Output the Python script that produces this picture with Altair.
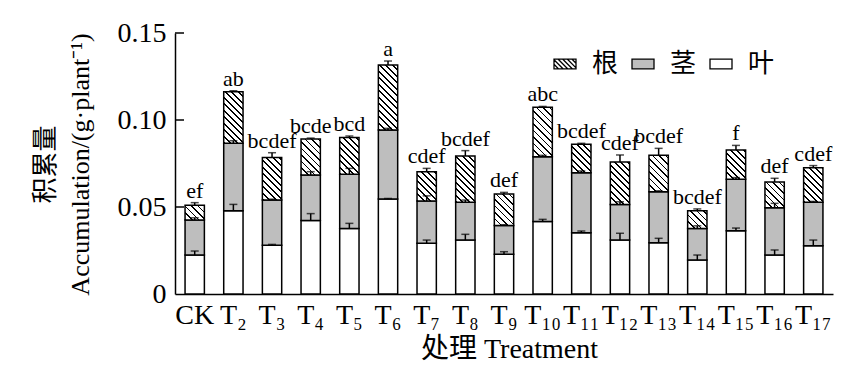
import altair as alt
import pandas as pd

# ---------------- data ----------------
treatments = ["CK", "T₂", "T₃", "T₄", "T₅", "T₆", "T₇", "T₈", "T₉",
              "T₁₀", "T₁₁", "T₁₂", "T₁₃", "T₁₄", "T₁₅", "T₁₆", "T₁₇"]
leaf = [0.0224, 0.0479, 0.0280, 0.0423, 0.0377, 0.0546, 0.0291, 0.0310, 0.0228,
        0.0416, 0.0352, 0.0310, 0.0295, 0.0195, 0.0364, 0.0224, 0.0278]
stem = [0.0201, 0.0387, 0.0260, 0.0261, 0.0311, 0.0397, 0.0243, 0.0217, 0.0165,
        0.0373, 0.0345, 0.0205, 0.0293, 0.0182, 0.0295, 0.0272, 0.0249]
root = [0.0085, 0.0297, 0.0245, 0.0207, 0.0212, 0.0373, 0.0169, 0.0266, 0.0182,
        0.0284, 0.0163, 0.0244, 0.0209, 0.0102, 0.0169, 0.0148, 0.0199]
leaf_err = [0.0023, 0.0036, 0.0005, 0.0039, 0.0029, 0.0003, 0.0019, 0.0033, 0.0015,
            0.0013, 0.0010, 0.0039, 0.0025, 0.0029, 0.0015, 0.0029, 0.0032]
stem_err = [0.0013, 0.0015, 0.0005, 0.0019, 0.0034, 0.0009, 0.0030, 0.0013, 0.0005,
            0.0008, 0.0010, 0.0015, 0.0005, 0.0015, 0.0010, 0.0025, 0.0005]
root_err = [0.0015, 0.0005, 0.0027, 0.0005, 0.0008, 0.0023, 0.0019, 0.0031, 0.0009,
            0.0005, 0.0006, 0.0040, 0.0040, 0.0010, 0.0026, 0.0021, 0.0012]
letters = ["ef", "ab", "bcdef", "bcde", "bcd", "a", "cdef", "bcdef", "def",
           "abc", "bcdef", "cdef", "bcdef", "bcdef", "f", "def", "cdef"]
parts = ["根", "茎", "叶"]
y_ticks = [0.05, 0.10, 0.15]

# ---------------- tables ----------------
df = pd.DataFrame({"trt": treatments, "leaf": leaf, "stem": stem, "root": root,
                   "e1": leaf_err, "e2": stem_err, "e3": root_err, "letter": letters})
df["s0"] = 0.0
df["s1"] = df["leaf"]
df["s2"] = df["leaf"] + df["stem"]
df["s3"] = df["s2"] + df["root"]
df["lab"] = df["s3"] + df["e3"]

err_rows = []
for _, r in df.iterrows():
    for s, e in (("s1", "e1"), ("s2", "e2"), ("s3", "e3")):
        err_rows.append({"trt": r["trt"], "base": r[s], "hi": r[s] + r[e]})
df_err = pd.DataFrame(err_rows)

leg_rows = []
for _, r in df.iterrows():
    for p, s in zip(parts, ["s3", "s2", "s1"]):
        leg_rows.append({"trt": r["trt"], "part": p, "top": r[s]})
df_leg = pd.DataFrame(leg_rows)
df_ticks = pd.DataFrame({"v": y_ticks})

# ---------------- styles ----------------
SERIF = "Liberation Serif"
MIXED = "Liberation Serif, Noto Sans CJK SC"
GRAY = "#bebebe"

xaxis = alt.Axis(title="处理 Treatment", titleFont=MIXED, titleFontSize=28,
                 titleFontWeight="normal", titleColor="black",
                 titleBaseline="alphabetic", titleY=63, titleX=334,
                 labelFont=SERIF, labelFontSize=28, labelColor="black",
                 labelAngle=0, labelPadding=7, ticks=False,
                 domainColor="black", domainWidth=1.5)
yaxis = alt.Axis(title=["积累量", "Accumulation/(g·plant⁻¹)"], titleFont=MIXED,
                 titleFontSize=26, titleFontWeight="normal", titleColor="black",
                 titleAngle=-90, titleBaseline="top", titleAlign="center",
                 titleX=-143, titleY=131, titleLineHeight=35,
                 labelFont=SERIF, labelFontSize=28, labelColor="black",
                 labelPadding=9, ticks=False, grid=False,
                 values=[0, 0.05, 0.10, 0.15],
                 labelExpr="datum.value == 0 ? '0' : format(datum.value, '.2f')",
                 domainColor="black", domainWidth=1.5)
xscale = alt.Scale(domain=treatments, paddingInner=0.5, paddingOuter=0.26)
yscale = alt.Scale(domain=[0, 0.15], nice=False, zero=True)


def X():
    return alt.X("trt:N", sort=treatments, scale=xscale, axis=xaxis)


def Y(field):
    return alt.Y(field, type="quantitative", scale=yscale, axis=yaxis)


# hatch fill for root segments: a striped linear gradient computed per bar
W = "bandwidth('x')"
H = "(scale('y', datum.s2) - scale('y', datum.s3))"
D = f"({W}*{W} + {H}*{H})"
period, lw = 6.5, 1.7
stops = []
for k in range(18):
    a = f"min(1, {k * period}*{W}/{D})"
    b = f"min(1, {k * period + lw}*{W}/{D})"
    stops += [f"{{offset:{a},color:'white'}}", f"{{offset:{a},color:'black'}}",
              f"{{offset:{b},color:'black'}}", f"{{offset:{b},color:'white'}}"]
hatch_expr = ("{gradient:'linear',x1:0,y1:1,x2:1,y2:1-" + H + "/" + W +
              ",stops:[" + ",".join(stops) + "]}")

# legend symbol shapes (custom paths in the unit box)
hh = 0.45
rect_path = f"M-1,-{hh}H1V{hh}H-1Z"
segs = []
x0 = -1 - 2 * hh
step = 0.42
while x0 < 1:
    xs, ys = x0, -hh
    xe, ye = x0 + 2 * hh, hh
    if xs < -1:
        ys = -hh + (-1 - xs)
        xs = -1
    if xe > 1:
        ye = hh - (xe - 1)
        xe = 1
    if xe > xs:
        segs.append(f"M{xs:.3f},{ys:.3f}L{xe:.3f},{ye:.3f}")
    x0 += step
hatch_path = rect_path + "".join(segs)

# ---------------- layers ----------------
base = alt.Chart(df)
leaf_bar = base.mark_bar(fill="white", stroke="black", strokeWidth=1.5).encode(
    x=X(), y=Y("s1"), y2=alt.Y2("s0"))
stem_bar = base.mark_bar(fill=GRAY, stroke="black", strokeWidth=1.5).encode(
    x=X(), y=Y("s2"), y2=alt.Y2("s1"))
root_bar = base.mark_bar(fill=alt.ExprRef(expr=hatch_expr), stroke="black",
                         strokeWidth=1.5).encode(
    x=X(), y=Y("s3"), y2=alt.Y2("s2"))

ebase = alt.Chart(df_err)
err_rule = ebase.mark_rule(color="black", strokeWidth=1.5).encode(
    x=X(), y=Y("base"), y2=alt.Y2("hi"))
err_cap = ebase.mark_tick(color="black", thickness=1.5, size=8).encode(
    x=X(), y=Y("hi"))

labels = base.mark_text(font=SERIF, fontSize=22, color="black",
                        baseline="alphabetic", dy=-5).encode(
    x=X(), y=Y("lab"), text="letter:N")

yticks = alt.Chart(df_ticks).mark_rule(color="black", strokeWidth=1.5).encode(
    y=Y("v"), x=alt.value(0), x2=alt.value(9))

leg = alt.Legend(orient="none", legendX=377, legendY=18, direction="horizontal",
                 symbolSize=484, symbolStrokeWidth=1.3,
                 symbolOpacity=1, labelFont="Noto Sans CJK SC", labelFontSize=26,
                 labelColor="black", labelOffset=14, columnPadding=10)
legend_pts = alt.Chart(df_leg).mark_point(filled=True, opacity=0).encode(
    x=X(), y=Y("top"),
    fill=alt.Fill("part:N", title=None,
                  scale=alt.Scale(domain=parts, range=["white", GRAY, "white"]),
                  legend=leg),
    stroke=alt.Stroke("part:N", title=None,
                      scale=alt.Scale(domain=parts, range=["black", "black", "black"]),
                      legend=leg),
    shape=alt.Shape("part:N", title=None,
                    scale=alt.Scale(domain=parts, range=[hatch_path, rect_path, rect_path]),
                    legend=leg),
)

chart = alt.layer(leaf_bar, stem_bar, root_bar, err_rule, err_cap, labels,
                  yticks, legend_pts).properties(
    width=658, height=261,
    autosize=alt.AutoSizeParams(type="none"),
    padding={"left": 175, "top": 33, "right": 35, "bottom": 84},
    background="white",
).configure_view(stroke=None)

chart.save("out.html", embed_options={"renderer": "svg", "actions": False})
